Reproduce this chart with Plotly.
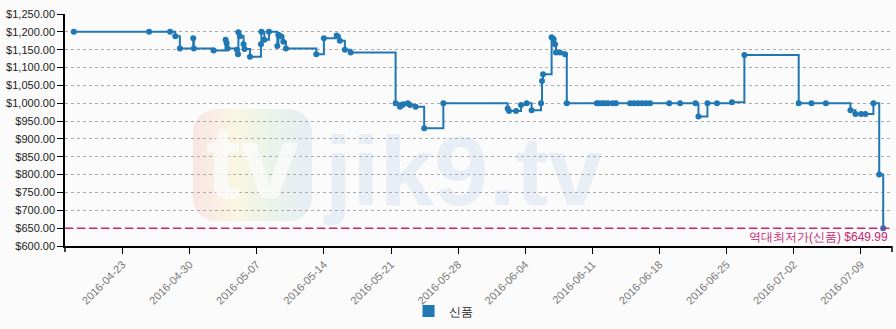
import base64
import plotly.graph_objects as go

dates = [
    "2016-04-17 22:00", "2016-04-25 18:30", "2016-04-27 23:00", "2016-04-28 12:00", "2016-04-28 23:30",
    "2016-04-30 09:00", "2016-04-30 10:30", "2016-05-02 12:00", "2016-05-03 18:00", "2016-05-03 20:30",
    "2016-05-03 23:00", "2016-05-04 22:30", "2016-05-05 01:00", "2016-05-05 02:00", "2016-05-05 06:00",
    "2016-05-05 15:00", "2016-05-05 17:30", "2016-05-06 07:00", "2016-05-07 10:30", "2016-05-07 11:30",
    "2016-05-07 19:00", "2016-05-08 06:30", "2016-05-09 03:30", "2016-05-09 06:00", "2016-05-09 13:30",
    "2016-05-09 18:30", "2016-05-10 01:00", "2016-05-13 05:00", "2016-05-14 00:00", "2016-05-15 08:00",
    "2016-05-15 16:00", "2016-05-16 04:30", "2016-05-16 19:00", "2016-05-21 11:30", "2016-05-21 22:30",
    "2016-05-22 06:30", "2016-05-22 18:00", "2016-05-22 23:30", "2016-05-23 13:30", "2016-05-24 11:00",
    "2016-05-26 11:00", "2016-06-02 04:00", "2016-06-02 07:30", "2016-06-03 01:00", "2016-06-03 13:30",
    "2016-06-04 03:30", "2016-06-04 16:00", "2016-06-05 15:30", "2016-06-05 18:00", "2016-06-05 20:30",
    "2016-06-06 18:00", "2016-06-06 23:00", "2016-06-07 02:30", "2016-06-07 05:00", "2016-06-07 15:00",
    "2016-06-08 03:30", "2016-06-08 08:00", "2016-06-11 11:00", "2016-06-11 16:00", "2016-06-12 00:30",
    "2016-06-12 07:30", "2016-06-12 15:30", "2016-06-13 03:00", "2016-06-13 11:00", "2016-06-14 22:30",
    "2016-06-15 08:30", "2016-06-15 18:30", "2016-06-16 04:30", "2016-06-16 14:30", "2016-06-17 00:30",
    "2016-06-19 00:30", "2016-06-20 03:30", "2016-06-21 18:00", "2016-06-22 01:30", "2016-06-23 00:00",
    "2016-06-24 00:00", "2016-06-25 13:30", "2016-06-26 20:30", "2016-07-02 12:30", "2016-07-03 20:30",
    "2016-07-05 08:30", "2016-07-07 22:00", "2016-07-08 10:30", "2016-07-09 00:30", "2016-07-09 11:30",
    "2016-07-10 07:30", "2016-07-10 22:00", "2016-07-11 08:00",
]
prices = [
    1200, 1200, 1200, 1188, 1153,
    1182, 1153, 1148, 1178, 1168,
    1153, 1150, 1137, 1199, 1188,
    1165, 1152, 1130, 1165, 1200,
    1178, 1200, 1160, 1192, 1187,
    1172, 1153, 1137, 1182, 1190,
    1175, 1150, 1142, 1000, 990,
    997, 1000, 995, 990, 930,
    1000, 985, 978, 978, 995,
    1000, 980, 1000, 1062, 1081,
    1185, 1179, 1165, 1142, 1142,
    1137, 1000, 1000, 1000, 1000,
    1000, 1000, 1000, 1000, 1000,
    1000, 1000, 1000, 1000, 1000,
    1000, 1000, 1000, 963, 1000,
    1000, 1003, 1135, 1000, 1000,
    1000, 980, 970, 970, 970,
    1000, 800, 649.99,
]
series_name = "신품"
lowest_price = 649.99
lowest_label = "역대최저가(신품) $649.99"
watermark_text = "jik9.tv"
logo_text = "tv"
x_ticks = ["2016-04-23", "2016-04-30", "2016-05-07", "2016-05-14", "2016-05-21", "2016-05-28",
           "2016-06-04", "2016-06-11", "2016-06-18", "2016-06-25", "2016-07-02", "2016-07-09"]
y_ticks = [600, 650, 700, 750, 800, 850, 900, 950, 1000, 1050, 1100, 1150, 1200, 1250]
x_range = ["2016-04-17 00:00", "2016-07-12 06:00"]
y_range = [600, 1250]

BLUE = "#1f77b4"
PINK = "#c8246f"
BG = "#fbfbfb"
FONT = "Liberation Sans, Arial, sans-serif"

# plot area in page pixels (for placing decorations)
PL, PR, PT, PB = 65.2, 891.7, 14.4, 247.7
PW, PH = PR - PL, PB - PT


def px_x(x):
    return (x - PL) / PW


def px_y(y):
    return (PB - y) / PH


logo_svg = (
    '<svg xmlns="http://www.w3.org/2000/svg" width="120" height="114" viewBox="0 0 120 114">'
    '<defs><linearGradient id="g" x1="0" y1="0" x2="1" y2="0">'
    '<stop offset="0" stop-color="#f08a8a"/><stop offset="0.35" stop-color="#f3df7a"/>'
    '<stop offset="0.65" stop-color="#a9d6a0"/><stop offset="1" stop-color="#8db6e2"/>'
    '</linearGradient></defs>'
    '<rect x="0" y="0" width="120" height="114" rx="24" ry="24" fill="url(#g)" opacity="0.2"/>'
    '</svg>'
)
logo_src = "data:image/svg+xml;base64," + base64.b64encode(logo_svg.encode()).decode()

fig = go.Figure()

fig.add_layout_image(source=logo_src, xref="paper", yref="paper", x=px_x(193), y=px_y(110),
                     sizex=119 / PW, sizey=113 / PH, xanchor="left", yanchor="top",
                     sizing="stretch", layer="below")

fig.add_annotation(text=logo_text, xref="paper", yref="paper", x=px_x(253), y=px_y(163),
                   showarrow=False, xanchor="center", yanchor="middle",
                   font=dict(family="Liberation Sans, Arial, sans-serif", size=104,
                             color="rgba(251,251,251,0.8)", weight="bold"))

fig.add_annotation(text=watermark_text, xref="paper", yref="paper", x=px_x(463), y=px_y(172),
                   showarrow=False, xanchor="center", yanchor="middle",
                   font=dict(family="Liberation Sans, Arial, sans-serif", size=98,
                             color="rgba(160,192,226,0.22)", weight="bold"))

fig.add_trace(go.Scatter(
    x=dates, y=prices, mode="lines+markers", line=dict(color=BLUE, width=2, shape="hv"),
    marker=dict(color=BLUE, size=6), showlegend=False, name=series_name,
    hovertemplate="%{x}<br>$%{y:,.2f}<extra></extra>"))

fig.add_trace(go.Scatter(
    x=[None], y=[None], mode="markers", marker=dict(symbol="square", color=BLUE, size=12),
    name=series_name, showlegend=True))

fig.add_shape(type="line", xref="paper", x0=0, x1=1, yref="y", y0=lowest_price, y1=lowest_price,
              line=dict(color=PINK, width=1.5, dash="8px,4px"), layer="above")
fig.add_annotation(text=lowest_label, xref="paper", x=0.996, yref="y", y=lowest_price,
                   xanchor="right", yanchor="top", yshift=-1, borderpad=0, showarrow=False,
                   font=dict(family=FONT, size=12, color=PINK))

# outer end ticks of the x axis
for xe in (0, 1):
    fig.add_shape(type="line", xref="paper", yref="paper", x0=xe, x1=xe, y0=0, y1=-6 / PH,
                  line=dict(color="#000", width=1.5))

fig.update_layout(
    width=896, height=329,
    margin=dict(l=65, r=4, t=14, b=81),
    paper_bgcolor=BG, plot_bgcolor="rgba(0,0,0,0)",
    font=dict(family=FONT, size=11, color="#222"),
    legend=dict(orientation="h", x=px_x(443), xanchor="center", y=px_y(313), yanchor="middle",
                font=dict(size=12, color="#222"), itemsizing="constant", itemwidth=30,
                bgcolor="rgba(0,0,0,0)"),
    xaxis=dict(type="date", range=x_range, tickvals=x_ticks, ticktext=x_ticks,
               tickangle=-45, showgrid=False, showline=True, linecolor="#000", linewidth=1.5,
               ticks="outside", ticklen=6, tickcolor="#000",
               tickfont=dict(size=11, color="#777"), zeroline=False, fixedrange=True),
    yaxis=dict(range=y_range, tickvals=y_ticks, tickformat="$,.2f",
               showgrid=True, gridcolor="#aaa", gridwidth=1, griddash="3px,3px",
               showline=True, linecolor="#000", linewidth=1.5,
               ticks="outside", ticklen=6, tickcolor="#000",
               tickfont=dict(size=11, color="#222"), zeroline=False, fixedrange=True),
)

fig.write_html("out.html")
